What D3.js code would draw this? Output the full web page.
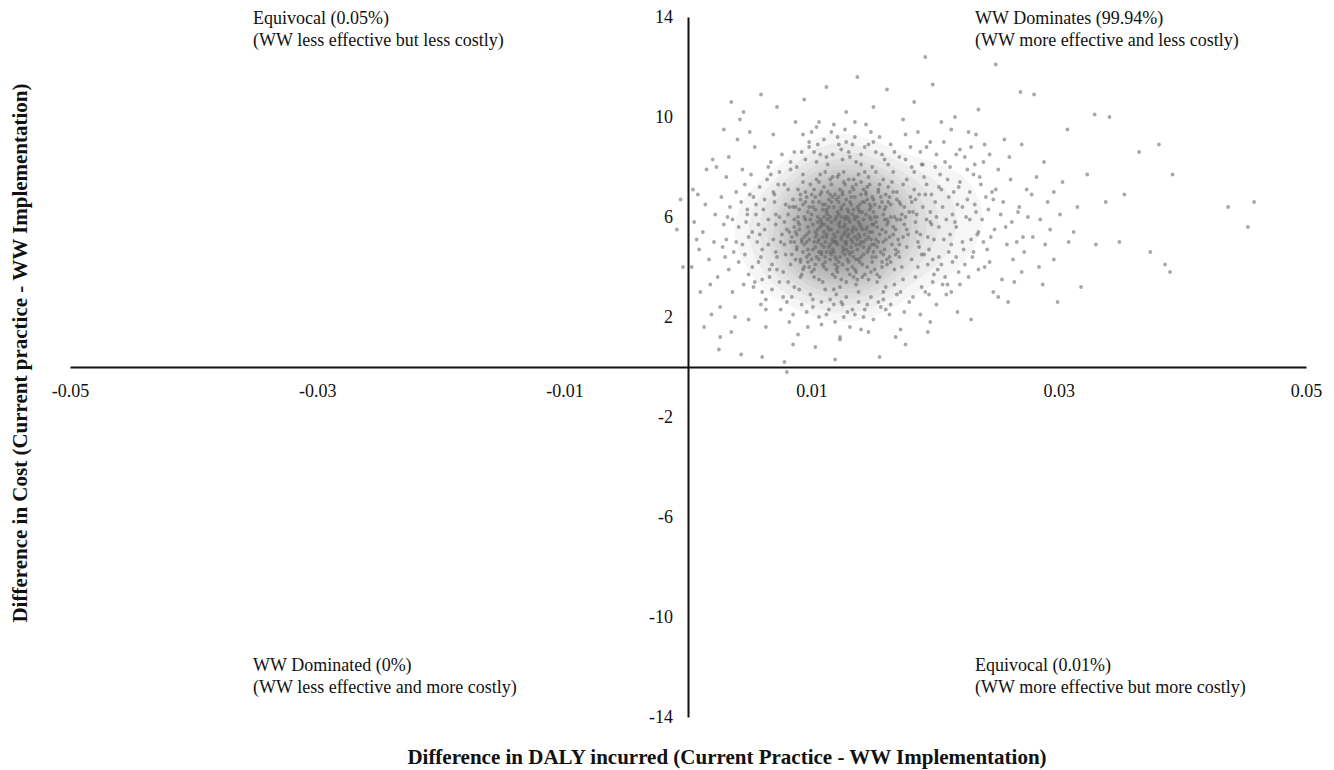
<!DOCTYPE html>
<html>
<head>
<meta charset="utf-8">
<script src="https://cdn.jsdelivr.net/npm/d3@7"></script>
<style>
  body { margin: 0; background: #fff; }
  text { font-family: "Liberation Serif", "Times New Roman", serif; }
</style>
</head>
<body>
<div id="chart"></div>
<script>
// probabilistic sensitivity analysis draws: [DALY difference, cost difference]
var simDraws = [
  // dense core
  [.0123,5.6],[.0108,4.9],[.0141,6.2],[.0096,5.3],[.0134,4.4],[.0117,6.8],[.0152,5.1],[.0089,6.0],[.0129,3.9],[.0164,6.5],
  [.0102,7.1],[.0138,5.8],[.0111,4.2],[.0147,4.8],[.0093,4.6],[.0126,7.4],[.0159,5.9],[.0105,5.8],[.0131,6.6],[.0119,3.6],
  [.0168,4.7],[.0084,5.2],[.0144,7.0],[.0120,5.0],[.0109,6.3],[.0136,3.8],[.0173,6.1],[.0098,4.0],[.0155,7.3],[.0114,5.5],
  [.0128,4.7],[.0149,5.4],[.0101,6.6],[.0133,7.2],[.0161,4.3],[.0091,6.9],[.0116,4.5],[.0150,6.7],[.0122,6.1],[.0087,4.3],
  [.0143,3.7],[.0106,5.1],[.0178,5.3],[.0130,5.3],[.0113,7.0],[.0157,4.0],[.0095,5.9],[.0125,4.1],[.0140,6.9],[.0166,5.6],
  [.0104,4.4],[.0139,4.9],[.0118,6.4],[.0082,6.4],[.0153,6.0],[.0127,5.9],[.0100,3.8],[.0146,5.2],[.0099,7.3],[.0135,6.0],
  [.0169,7.0],[.0110,5.7],[.0124,3.5],[.0158,5.0],[.0094,4.9],[.0142,4.5],[.0107,6.9],[.0132,5.1],[.0171,4.4],[.0115,6.0],
  [.0121,7.6],[.0086,5.6],[.0151,3.9],[.0137,6.4],[.0103,5.4],[.0148,6.4],[.0112,3.9],[.0163,6.8],[.0092,3.7],[.0129,6.3],
  [.0184,5.8],[.0108,4.6],[.0145,5.6],[.0123,4.4],[.0097,6.2],[.0156,4.6],[.0119,5.2],[.0134,7.5],[.0160,5.4],[.0088,4.8],
  [.0120,6.7],[.0141,3.6],[.0106,7.4],[.0130,4.6],[.0175,6.4],[.0114,4.8],[.0154,7.0],[.0090,5.5],[.0127,5.4],[.0149,4.2],
  [.0102,5.0],[.0136,5.5],[.0117,3.7],[.0165,4.9],[.0085,6.7],[.0125,6.9],[.0150,5.7],[.0109,4.1],[.0143,6.6],[.0111,6.5],
  [.0133,4.0],[.0167,6.0],[.0096,4.4],[.0122,5.7],[.0147,7.3],[.0105,6.0],[.0138,4.3],[.0116,7.3],[.0159,6.3],[.0093,6.5],
  [.0128,5.0],[.0170,5.1],[.0101,4.7],[.0140,5.0],[.0113,5.9],[.0152,4.4],[.0083,5.0],[.0131,7.0],[.0162,7.2],[.0120,4.3],
  [.0107,5.6],[.0144,6.1],[.0118,4.6],[.0135,3.9],[.0098,5.1],[.0157,6.6],[.0126,6.5],[.0103,6.8],[.0146,4.7],[.0177,4.8],
  [.0110,4.0],[.0132,6.8],[.0091,4.2],[.0161,5.7],[.0124,5.2],[.0148,3.8],[.0100,6.1],[.0137,5.1],[.0115,7.5],[.0155,5.3],
  [.0089,5.8],[.0129,4.3],[.0164,4.2],[.0104,5.3],[.0142,7.1],[.0112,6.2],[.0139,6.2],[.0095,7.0],[.0151,6.5],[.0121,3.8],
  [.0181,6.6],[.0108,7.0],[.0134,5.6],[.0117,5.0],[.0149,6.8],[.0097,4.7],[.0168,5.5],[.0123,7.1],[.0106,4.3],[.0130,5.9],
  [.0153,4.8],[.0114,6.7],[.0084,4.5],[.0145,4.0],[.0127,6.0],[.0102,3.6],[.0160,6.9],[.0136,7.3],[.0119,4.1],[.0141,5.5],
  [.0094,6.0],[.0125,4.8],[.0172,5.9],[.0109,5.2],[.0158,4.5],[.0133,5.4],[.0111,4.4],[.0147,6.0],[.0092,5.0],[.0122,6.6],
  [.0135,5.2],[.0098,6.4],[.0162,5.8],[.0117,4.7],[.0144,6.9],[.0086,5.0],[.0128,3.4],[.0179,6.2],[.0107,7.7],[.0151,4.9],
  [.0124,6.3],[.0093,3.9],[.0139,5.7],[.0170,4.6],[.0112,5.3],[.0146,7.6],[.0081,6.1],[.0131,4.5],[.0158,6.1],[.0103,4.8],
  [.0119,6.9],[.0186,5.0],[.0136,3.3],[.0097,5.6],[.0148,5.9],[.0126,7.8],[.0109,3.4],[.0165,7.4],[.0089,7.1],[.0141,4.1],
  [.0121,5.4],[.0175,5.7],[.0100,6.9],[.0133,6.1],[.0155,3.6],[.0115,4.9],[.0192,6.9],[.0083,4.1],[.0127,5.7],[.0147,6.3],
  [.0105,5.5],[.0137,4.7],[.0163,5.2],[.0090,6.3],[.0123,3.2],[.0152,7.8],[.0114,6.4],[.0181,4.3],[.0098,4.5],[.0132,6.5],
  [.0143,5.3],[.0110,7.2],[.0169,6.7],[.0087,5.4],[.0125,4.6],[.0157,5.5],[.0102,3.9],[.0138,7.7],[.0120,6.0],[.0174,7.3],
  [.0094,5.2],[.0149,4.4],[.0116,5.8],[.0134,3.6],[.0160,6.4],[.0106,6.6],[.0129,5.5],[.0188,5.3],[.0091,4.3],[.0145,6.7],
  [.0122,4.2],[.0154,5.0],[.0111,5.0],[.0140,7.4],[.0078,5.8],[.0130,6.2],[.0167,3.9],[.0104,7.5],[.0136,4.9],[.0118,3.1],
  [.0150,6.2],[.0096,6.8],[.0127,7.3],[.0177,5.5],[.0108,4.5],[.0142,5.9],[.0121,4.9],[.0159,4.7],[.0085,6.4],[.0133,5.0],
  [.0113,6.1],[.0196,5.8],[.0146,3.5],[.0101,5.7],[.0128,6.7],[.0164,6.0],[.0092,5.1],[.0139,4.2],[.0117,7.6],[.0153,5.6],
  [.0124,5.1],[.0106,3.5],[.0172,6.5],[.0135,6.8],[.0097,4.2],[.0148,5.1],[.0119,5.9],[.0161,4.1],[.0088,4.7],[.0130,4.2],
  [.0143,7.8],[.0110,5.4],[.0183,7.1],[.0126,5.6],[.0099,5.9],[.0156,6.8],[.0115,4.3],[.0137,6.0],[.0166,5.3],[.0103,6.3],
  [.0122,6.8],[.0145,4.6],[.0080,5.5],[.0131,3.7],[.0158,7.5],[.0112,4.6],[.0140,5.6],[.0189,4.5],[.0095,6.6],[.0127,4.5],
  [.0151,6.0],[.0107,5.9],[.0134,7.1],[.0120,3.9],[.0168,4.5],[.0090,5.7],[.0144,5.1],[.0116,6.6],[.0162,6.6],[.0100,4.3],
  [.0129,6.0],[.0153,3.7],[.0111,7.8],[.0138,5.3],[.0176,6.0],[.0094,4.0],[.0123,5.8],[.0147,6.5],[.0105,5.0],[.0132,4.8],
  [.0160,5.1],[.0118,5.3],[.0141,6.6],[.0086,5.9],[.0125,7.0],[.0171,4.9],[.0109,6.5],[.0136,4.3],[.0154,7.1],[.0098,5.4],
  [.0121,4.0],[.0149,5.7],[.0113,5.6],[.0185,6.1],[.0130,7.5],[.0103,4.1],[.0142,4.8],[.0166,7.0],[.0091,6.7],[.0126,5.3],
  [.0157,4.2],[.0115,6.9],[.0139,6.5],[.0108,5.8],[.0133,5.5],[.0174,5.2],[.0096,5.0],[.0145,7.2],[.0119,4.4],[.0161,5.9],
  [.0101,6.4],[.0128,4.9],[.0150,4.6],[.0112,6.3],[.0137,3.5],[.0180,6.8],[.0088,5.3],[.0124,6.4],[.0147,5.4],[.0106,4.6],
  [.0134,6.3],[.0163,4.4],[.0117,5.1],[.0140,4.4],[.0093,7.4],[.0155,6.4],[.0122,7.7],[.0110,4.8],[.0169,5.9],[.0129,5.2],
  [.0152,5.8],[.0119,5.0],[.0131,5.8],[.0110,6.0],[.0144,5.5],[.0126,4.7],[.0138,6.3],[.0116,5.5],[.0149,4.9],[.0103,5.2],
  [.0135,5.9],[.0121,6.2],[.0108,5.7],[.0142,5.0],[.0127,5.0],[.0115,4.6],[.0133,4.6],[.0124,6.0],[.0139,5.2],[.0112,5.2],
  // surrounding band
  [.0052,5.4],[.0068,3.1],[.0074,7.8],[.0196,6.2],[.0213,4.9],[.0204,7.7],[.0061,6.3],[.0189,3.2],[.0080,2.6],[.0225,6.0],
  [.0046,4.5],[.0176,8.3],[.0092,8.6],[.0234,5.3],[.0065,4.9],[.0191,4.5],[.0118,2.5],[.0143,8.8],[.0071,5.7],[.0241,6.8],
  [.0058,7.2],[.0208,3.6],[.0156,2.4],[.0105,8.9],[.0220,7.4],[.0077,3.8],[.0183,7.8],[.0129,2.2],[.0049,3.7],[.0217,5.6],
  [.0162,8.1],[.0083,7.9],[.0199,5.1],[.0063,2.7],[.0131,8.4],[.0230,4.4],[.0099,2.9],[.0172,3.0],[.0055,6.1],[.0201,8.5],
  [.0113,8.1],[.0079,6.5],[.0219,3.8],[.0148,2.8],[.0067,8.2],[.0187,6.9],[.0039,5.0],[.0228,5.9],[.0108,2.6],[.0166,7.8],
  [.0086,3.2],[.0194,4.1],[.0124,8.7],[.0248,5.5],[.0050,6.9],[.0206,6.4],[.0152,8.6],[.0072,4.4],[.0179,2.6],[.0095,8.3],
  [.0215,7.0],[.0060,3.5],[.0138,2.6],[.0237,7.3],[.0081,7.1],[.0185,5.4],[.0110,9.1],[.0043,6.6],[.0198,3.4],[.0140,8.1],
  [.0075,2.3],[.0223,4.7],[.0169,2.9],[.0102,8.6],[.0057,4.2],[.0209,5.9],[.0126,2.0],[.0180,8.8],[.0064,7.5],[.0244,4.2],
  [.0090,3.1],[.0159,8.3],[.0211,6.8],[.0070,6.9],[.0174,3.5],[.0135,9.2],[.0047,5.8],[.0193,7.3],[.0115,2.7],[.0232,6.5],
  [.0088,8.0],[.0163,2.1],[.0069,5.1],[.0203,4.4],[.0146,8.9],[.0053,3.2],[.0226,7.9],[.0101,2.4],[.0182,6.2],[.0122,8.9],
  [.0078,4.9],[.0253,6.1],[.0154,2.6],[.0093,7.7],[.0210,3.3],[.0062,6.7],[.0177,7.5],[.0133,2.3],[.0041,4.2],[.0190,8.1],
  [.0117,8.5],[.0084,2.8],[.0239,5.0],[.0160,3.2],[.0073,7.3],[.0200,6.6],[.0142,2.0],[.0056,5.0],[.0222,6.4],[.0100,9.4],
  [.0186,4.0],[.0120,2.9],[.0066,3.9],[.0246,7.0],[.0150,9.0],[.0096,2.2],[.0214,4.2],[.0076,8.5],[.0171,6.6],[.0130,8.6],
  [.0051,7.7],[.0197,5.7],[.0112,2.1],[.0082,5.4],[.0235,3.9],[.0167,8.6],[.0060,4.7],[.0205,7.1],[.0145,2.5],[.0098,8.8],
  [.0229,5.1],[.0045,3.3],[.0184,3.6],[.0128,9.0],[.0074,3.4],[.0212,8.0],[.0158,3.0],[.0106,2.0],[.0257,5.6],[.0065,5.9],
  [.0173,4.0],[.0136,8.2],[.0087,6.4],[.0195,2.9],[.0116,9.4],[.0059,2.5],[.0224,8.4],[.0164,2.5],[.0091,3.6],[.0242,4.7],
  [.0071,6.1],[.0202,3.9],[.0149,8.0],[.0125,2.5],[.0048,6.3],[.0188,8.6],[.0104,8.2],[.0068,4.1],[.0231,7.7],[.0153,3.4],
  [.0197,6.9],[.0212,5.3],[.0226,6.7],[.0205,4.1],[.0238,5.9],[.0191,7.6],[.0219,7.2],[.0243,6.3],[.0203,5.6],[.0231,4.6],
  [.0187,4.8],[.0214,6.1],[.0249,7.1],[.0199,3.7],[.0222,5.0],[.0208,8.2],[.0236,7.6],[.0194,5.2],[.0217,4.4],[.0262,5.8],
  [.0201,6.0],[.0227,3.6],[.0189,8.1],[.0245,5.2],[.0210,7.5],[.0233,6.2],[.0198,4.3],[.0220,8.7],[.0255,6.6],[.0206,3.3],
  [.0184,6.7],[.0216,5.8],[.0240,4.0],[.0193,5.9],[.0228,7.0],[.0203,7.2],[.0268,6.4],[.0211,4.6],[.0235,5.4],[.0190,6.4],
  [.0224,4.1],[.0247,6.7],[.0200,8.0],[.0218,6.5],[.0258,4.9],[.0207,5.1],[.0232,8.1],[.0195,4.7],[.0213,3.0],[.0271,5.2],
  [.0062,5.5],[.0071,4.6],[.0055,6.5],[.0078,7.3],[.0066,3.6],[.0049,5.2],[.0074,6.0],[.0059,4.4],[.0081,3.4],[.0053,6.8],
  [.0069,7.0],[.0044,4.9],[.0076,5.3],[.0060,3.0],[.0083,8.2],[.0057,5.7],[.0072,3.9],[.0048,6.1],[.0065,8.0],[.0079,4.5],
  [.0052,4.0],[.0070,6.6],[.0063,2.3],[.0046,7.3],[.0077,2.8],[.0058,5.3],[.0067,7.7],[.0041,5.6],[.0075,5.0],[.0054,3.4],
  [.0034,6.4],[.0037,4.6],[.0031,5.1],[.0039,7.0],[.0027,6.8],[.0033,3.9],[.0036,5.9],[.0030,4.4],[.0021,5.0],[.0032,6.0],
  [.0112,8.4],[.0127,9.5],[.0140,8.5],[.0098,9.0],[.0155,9.2],[.0118,9.7],[.0164,8.9],[.0133,8.9],[.0086,8.6],[.0171,8.4],
  [.0104,9.6],[.0148,9.4],[.0125,8.3],[.0176,9.3],[.0093,9.3],[.0157,8.5],[.0135,9.8],[.0107,8.5],[.0181,8.0],[.0121,9.2],
  [.0114,2.3],[.0128,2.8],[.0143,2.3],[.0101,2.7],[.0158,2.7],[.0119,1.8],[.0135,2.1],[.0092,2.5],[.0167,3.3],[.0108,1.7],
  [.0150,1.9],[.0124,2.6],[.0175,2.2],[.0097,1.6],[.0138,3.0],[.0111,3.1],[.0160,2.3],[.0085,2.1],[.0182,2.8],[.0131,1.6],
  [.0192,3.0],[.0201,2.5],[.0188,2.1],[.0209,2.9],[.0196,1.8],[.0220,3.3],[.0172,1.5],[.0146,1.4],[.0123,1.1],[.0082,1.8],
  [.0196,9.0],[.0213,9.5],[.0186,9.4],[.0229,8.8],[.0205,9.8],[.0239,8.2],[.0217,8.5],[.0251,7.9],[.0193,8.8],[.0233,9.3],
  [.0261,7.5],[.0275,6.0],[.0282,7.6],[.0266,5.0],[.0289,4.9],[.0270,3.8],[.0278,6.9],[.0263,4.3],[.0293,5.5],[.0284,4.0],
  [.0254,3.5],[.0247,3.0],[.0259,2.6],[.0244,8.5],[.0270,8.9],[.0301,6.1],[.0308,5.0],[.0296,7.0],[.0315,6.4],[.0287,3.3],
  // sparse outer draws
  [.0012,5.4],[.0024,3.6],[.0008,6.9],[.0031,7.6],[.0019,2.1],[.0028,4.8],[.0005,5.8],[.0035,1.4],[.0015,7.9],[.0022,6.1],
  [.0003,4.0],[.0033,8.4],[.0026,1.2],[.0040,9.1],[.0010,3.0],[.0038,2.0],[.0020,8.3],[.0044,7.9],[.0017,4.3],[.0054,8.8],
  [.0043,0.5],[.0060,0.4],[.0078,0.2],[.0103,0.8],[.0155,0.4],[.0176,0.9],[.0089,1.3],[.0063,1.6],[.0123,1.2],[.0194,1.4],
  [.0140,1.5],[.0218,2.2],[.0251,2.8],[.0264,3.4],[.0272,4.6],[.0260,8.4],[.0274,7.1],[.0256,9.1],[.0285,5.9],[.0291,6.6],
  [.0279,5.2],[.0303,7.4],[.0288,8.2],[.0267,6.2],[.0296,4.3],[.0312,5.4],[.0323,7.7],[.0307,9.5],[.0338,6.6],[.0349,5.0],
  [.0329,10.1],[.0280,10.9],[.0269,11.0],[.0216,10.0],[.0183,10.6],[.0161,11.1],[.0137,11.6],[.0112,11.2],[.0094,10.7],[.0072,10.4],
  [.0059,10.9],[.0087,9.8],[.0128,10.2],[.0150,10.4],[.0174,9.9],[.0198,11.3],[.0192,12.4],[.0235,10.3],[.0249,12.1],[.0227,9.4],
  [.0042,9.9],[.0069,9.3],[.0106,9.8],[.0144,9.7],[.0207,9.0],[.0240,8.9],[.0365,8.6],[.0353,6.9],[.0374,4.6],[.0381,8.9],
  [.0392,7.7],[.0386,4.1],[.0390,3.8],[.0437,6.4],[.0458,6.6],[.0453,5.6],[.0341,10.0],[.0318,3.2],[.0299,2.6],[.0330,4.9],
  [.0013,1.6],[.0009,4.7],[.0029,5.7],[.0036,3.0],[.0049,1.9],[.0025,0.7],[.0085,0.9],[.0119,0.3],[.0168,1.2],[.0229,1.9],
  [.0026,2.4],[.0018,3.3],[.0007,5.1],[.0014,6.5],[.0004,7.1],[.0023,8.0],[.0029,9.5],[.0050,9.4],[.0035,10.6],[.0045,10.2],
  // the few draws outside the north-east quadrant
  [-.0006,6.7],[-.0009,5.5],[-.0004,4.0],[.0080,-0.2]
];

var xTicks = [-0.05, -0.03, -0.01, 0.01, 0.03, 0.05];
var yTicks = [14, 10, 6, 2, -2, -6, -10, -14];

var quadrantHeads = ["Equivocal (0.05%)", "WW Dominates (99.94%)", "WW Dominated (0%)", "Equivocal (0.01%)"];
var quadrantNotes = ["(WW less effective but less costly)", "(WW more effective and less costly)",
                     "(WW less effective and more costly)", "(WW more effective but more costly)"];

var xTitle = "Difference in DALY incurred (Current Practice - WW Implementation)";
var yTitle = "Difference in Cost (Current practice - WW Implementation)";

function init() {
  var w = 1334;
  var h = 770;

  var x = d3.scaleLinear().domain([-0.05, 0.05]).range([70, 1306]);
  var y = d3.scaleLinear().domain([-14, 14]).range([717, 17]);

  // plain hyphen for negatives, like the original
  var hyphen = function(f) {
    return function(d) { return f(d).replace("\u2212", "-"); };
  };

  var svg = d3.select("#chart")
              .append("svg")
              .attr("width", w)
              .attr("height", h);

  // the original has thousands of overplotted dots; a faint density
  // shading of the same draws gives the darker core (outer levels skipped)
  var density = d3.contourDensity()
                  .x(function(d) { return x(d[0]); })
                  .y(function(d) { return y(d[1]); })
                  .size([w, h])
                  .bandwidth(20)
                  .thresholds(26)(simDraws);

  svg.append("g")
     .selectAll("path")
     .data(density.slice(3))
     .enter()
     .append("path")
     .attr("d", d3.geoPath())
     .attr("fill", "#4d4d4d")
     .attr("fill-opacity", 0.05)
     .attr("stroke", "none");

  // points first so the axes sit on top
  svg.append("g")
     .selectAll("circle")
     .data(simDraws)
     .enter()
     .append("circle")
     .attr("cx", function(d) { return x(d[0]); })
     .attr("cy", function(d) { return y(d[1]); })
     .attr("r", 1.9)
     .attr("fill", "#606060")
     .attr("fill-opacity", 0.55);

  var xAxis = d3.axisBottom(x)
                .tickValues(xTicks)
                .tickFormat(hyphen(d3.format(".2f")))
                .tickSize(0)
                .tickPadding(17);

  var yAxis = d3.axisLeft(y)
                .tickValues(yTicks)
                .tickFormat(hyphen(d3.format("d")))
                .tickSize(0)
                .tickPadding(15);

  var gx = svg.append("g")
              .attr("transform", "translate(0," + y(0) + ")")
              .call(xAxis);

  var gy = svg.append("g")
              .attr("transform", "translate(" + x(0) + ",0)")
              .call(yAxis);

  [gx, gy].forEach(function(g) {
    g.select(".domain").attr("stroke", "#111").attr("stroke-width", 2);
    g.selectAll("text")
     .attr("font-family", "Liberation Serif, serif")
     .attr("font-size", "18px")
     .attr("fill", "#111");
  });

  // quadrant annotations
  var noteX = [253, 975, 253, 975];
  var noteY = [24, 24, 671, 671];
  var notes = svg.append("g")
                 .selectAll("text")
                 .data(quadrantHeads)
                 .enter()
                 .append("text")
                 .attr("x", function(d, i) { return noteX[i]; })
                 .attr("y", function(d, i) { return noteY[i]; })
                 .attr("font-size", "18px")
                 .attr("fill", "#111");

  notes.append("tspan")
       .text(function(d) { return d; });

  notes.append("tspan")
       .attr("x", function(d, i) { return noteX[i]; })
       .attr("dy", 22)
       .text(function(d, i) { return quadrantNotes[i]; });

  svg.append("text")
     .attr("x", 727)
     .attr("y", 764)
     .attr("text-anchor", "middle")
     .attr("font-size", "21px")
     .attr("font-weight", "bold")
     .attr("fill", "#111")
     .text(xTitle);

  svg.append("text")
     .attr("transform", "translate(27,353) rotate(-90)")
     .attr("text-anchor", "middle")
     .attr("font-size", "21px")
     .attr("font-weight", "bold")
     .attr("fill", "#111")
     .text(yTitle);
}

window.onload = init;
</script>
</body>
</html>
